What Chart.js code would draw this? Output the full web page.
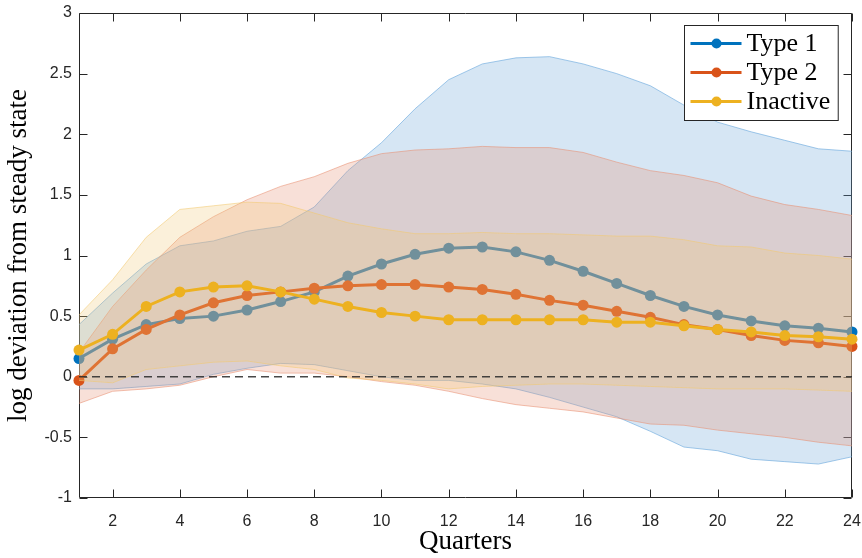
<!DOCTYPE html>
<html>
<head>
<meta charset="utf-8">
<script src="https://cdn.jsdelivr.net/npm/chart.js@4.4.1/dist/chart.umd.min.js"></script>
<style>
html,body{margin:0;padding:0;background:#ffffff;}
#wrap{width:862px;height:558px;position:relative;}
</style>
</head>
<body>
<div id="wrap"><canvas id="c" width="862" height="558"></canvas></div>
<script>
// ---- data ----
const quarters = [1,2,3,4,5,6,7,8,9,10,11,12,13,14,15,16,17,18,19,20,21,22,23,24];
const seriesNames = ['Type 1', 'Type 2', 'Inactive'];

const type1 = [0.15,0.31,0.43,0.48,0.50,0.55,0.62,0.70,0.83,0.93,1.01,1.06,1.07,1.03,0.96,0.87,0.77,0.67,0.58,0.51,0.46,0.42,0.40,0.37];
const type2 = [-0.03,0.23,0.39,0.51,0.61,0.67,0.70,0.73,0.75,0.76,0.76,0.74,0.72,0.68,0.63,0.59,0.54,0.49,0.43,0.39,0.34,0.30,0.28,0.25];
const inactive = [0.22,0.35,0.58,0.70,0.74,0.75,0.70,0.64,0.58,0.53,0.50,0.47,0.47,0.47,0.47,0.47,0.45,0.45,0.42,0.39,0.37,0.34,0.33,0.31];

const type1Upper = [0.43,0.69,0.93,1.08,1.12,1.20,1.24,1.40,1.70,1.93,2.21,2.45,2.58,2.63,2.64,2.58,2.50,2.40,2.24,2.10,2.02,1.95,1.88,1.86];
const type1Lower = [-0.10,-0.10,-0.08,-0.06,0.02,0.07,0.11,0.10,0.05,0.00,-0.03,-0.03,-0.06,-0.10,-0.17,-0.25,-0.33,-0.45,-0.58,-0.61,-0.68,-0.70,-0.72,-0.66];
const type2Upper = [0.20,0.58,0.88,1.15,1.32,1.46,1.57,1.65,1.76,1.84,1.87,1.88,1.90,1.89,1.89,1.85,1.77,1.70,1.66,1.60,1.49,1.42,1.38,1.33];
const type2Lower = [-0.22,-0.12,-0.10,-0.07,0.00,0.06,0.03,0.03,0.00,-0.04,-0.07,-0.12,-0.18,-0.23,-0.26,-0.29,-0.34,-0.39,-0.40,-0.44,-0.47,-0.50,-0.54,-0.57];
const inactiveUpper = [0.51,0.80,1.15,1.38,1.41,1.44,1.43,1.35,1.27,1.22,1.18,1.18,1.19,1.18,1.18,1.17,1.16,1.16,1.13,1.08,1.07,1.02,1.00,0.97];
const inactiveLower = [-0.03,-0.05,0.06,0.09,0.12,0.13,0.09,0.06,-0.01,-0.03,-0.06,-0.10,-0.08,-0.07,-0.06,-0.06,-0.07,-0.08,-0.09,-0.10,-0.10,-0.10,-0.11,-0.12];

const zeroLineX = [1, 24];
const zeroLineY = [0, 0];

const xTicks = [2,4,6,8,10,12,14,16,18,20,22,24];
const yTicks = [-1,-0.5,0,0.5,1,1.5,2,2.5,3];
const xTitle = 'Quarters';
const yTitle = 'log deviation from steady state';

// ---- styles ----
const lineColors = ['#0072BD', '#D95319', '#EDB120'];
const bandFills = ['rgba(109,166,216,0.28)', 'rgba(230,144,116,0.28)', 'rgba(241,202,123,0.28)'];
const bandEdges = ['rgba(100,165,220,0.6)', 'rgba(232,140,110,0.55)', 'rgba(243,200,110,0.55)'];
const axisColor = '#262626';
const serif = '"Liberation Serif", "Times New Roman", serif';
const sans = '"Liberation Sans", Arial, sans-serif';

const pts = (xs, ys) => xs.map((x, i) => ({x: x, y: ys[i]}));

const series = [type1, type2, inactive];
const uppers = [type1Upper, type2Upper, inactiveUpper];
const lowers = [type1Lower, type2Lower, inactiveLower];

const datasets = [];
datasets.push({
  label: '_zero', data: pts(zeroLineX, zeroLineY), borderColor: 'rgba(40,40,40,0.85)', borderWidth: 1.5,
  borderDash: [8, 5], pointRadius: 0, fill: false, order: 0, tension: 0
});
for (let k = 0; k < 3; k++) {
  const bandOrder = 10 - 2 * k;
  datasets.push({
    label: '_upper' + k, data: pts(quarters, uppers[k]), borderColor: bandEdges[k], borderWidth: 1,
    backgroundColor: bandFills[k], pointRadius: 0, fill: '+1', order: bandOrder, tension: 0
  });
  datasets.push({
    label: '_lower' + k, data: pts(quarters, lowers[k]), borderColor: bandEdges[k], borderWidth: 1,
    pointRadius: 0, fill: false, order: bandOrder, tension: 0
  });
  datasets.push({
    label: seriesNames[k], data: pts(quarters, series[k]), borderColor: lineColors[k], borderWidth: 3,
    pointRadius: 5.5, pointHoverRadius: 5.5, pointBackgroundColor: lineColors[k], pointBorderWidth: 0,
    fill: false, order: bandOrder - 1, tension: 0, clip: false
  });
}

const boxPlugin = {
  id: 'boxPlugin',
  beforeDatasetsDraw(chart) {
    const ctx = chart.ctx, a = chart.chartArea;
    const xs = chart.scales.x, ys = chart.scales.y;
    ctx.save();
    ctx.strokeStyle = axisColor;
    ctx.lineWidth = 1;
    const L = Math.round(a.left) + 0.5, R = Math.round(a.right) - 0.5;
    const T = Math.round(a.top) + 0.5, B = Math.round(a.bottom) - 0.5;
    ctx.beginPath();
    ctx.rect(L, T, R - L, B - T);
    const tl = 8;
    xTicks.forEach(v => {
      const px = Math.round(xs.getPixelForValue(v)) + 0.5;
      ctx.moveTo(px, B); ctx.lineTo(px, B - tl);
      ctx.moveTo(px, T); ctx.lineTo(px, T + tl);
    });
    yTicks.forEach(v => {
      const py = Math.round(ys.getPixelForValue(v)) + 0.5;
      ctx.moveTo(L, py); ctx.lineTo(L + tl, py);
      ctx.moveTo(R, py); ctx.lineTo(R - tl, py);
    });
    ctx.stroke();
    ctx.restore();
  }
};

const legendPlugin = {
  id: 'customLegend',
  afterDraw(chart) {
    const ctx = chart.ctx, a = chart.chartArea;
    const items = chart.data.datasets.filter(d => seriesNames.includes(d.label));
    ctx.save();
    ctx.font = '26px ' + serif;
    let tw = 0;
    items.forEach(d => { tw = Math.max(tw, ctx.measureText(d.label).width); });
    const w = 62 + tw + 8, h = 95;
    const left = Math.round(a.right - 14 - w) + 0.5, top = Math.round(a.top + 12) + 0.5;
    ctx.fillStyle = '#ffffff';
    ctx.fillRect(left, top, w, h);
    ctx.strokeStyle = axisColor;
    ctx.lineWidth = 1;
    ctx.strokeRect(left, top, w, h);
    items.forEach((d, i) => {
      const y = top + 18 + i * 29;
      ctx.strokeStyle = d.borderColor;
      ctx.lineWidth = 3;
      ctx.beginPath();
      ctx.moveTo(left + 6, y); ctx.lineTo(left + 57, y);
      ctx.stroke();
      ctx.fillStyle = d.borderColor;
      ctx.beginPath();
      ctx.arc(left + 32, y, 5, 0, Math.PI * 2);
      ctx.fill();
      ctx.fillStyle = '#000000';
      ctx.textBaseline = 'middle';
      ctx.textAlign = 'left';
      ctx.fillText(d.label, left + 62, y + 1);
    });
    ctx.restore();
  }
};

new Chart(document.getElementById('c'), {
  type: 'line',
  data: { datasets: datasets },
  options: {
    responsive: false,
    animation: false,
    devicePixelRatio: 1,
    layout: { padding: { top: 13, right: 10, left: 0, bottom: 0 } },
    plugins: { legend: { display: false }, tooltip: { enabled: false } },
    scales: {
      x: {
        type: 'linear', min: 1, max: 24,
        grid: { display: false, drawTicks: false },
        border: { display: false },
        afterBuildTicks: s => { s.ticks = xTicks.map(v => ({ value: v })); },
        afterFit: s => { s.height = 60; s.paddingLeft = 0; s.paddingRight = 0; },
        ticks: { autoSkip: false, maxRotation: 0, color: axisColor, padding: 14,
                 font: { family: sans, size: 16 }, callback: v => String(v) },
        title: { display: true, text: xTitle, color: '#000000',
                 font: { family: serif, size: 27 }, padding: { top: 0, bottom: 0 } }
      },
      y: {
        type: 'linear', min: -1, max: 3,
        grid: { display: false, drawTicks: false },
        border: { display: false },
        afterBuildTicks: s => { s.ticks = yTicks.map(v => ({ value: v })); },
        afterFit: s => { s.width = 79; s.paddingTop = 0; s.paddingBottom = 0; },
        ticks: { autoSkip: false, color: axisColor, padding: 7,
                 font: { family: sans, size: 16 }, callback: v => String(v) },
        title: { display: true, text: yTitle, color: '#000000',
                 font: { family: serif, size: 27 }, padding: { top: 3, bottom: 0 } }
      }
    }
  },
  plugins: [boxPlugin, legendPlugin]
});
</script>
</body>
</html>
